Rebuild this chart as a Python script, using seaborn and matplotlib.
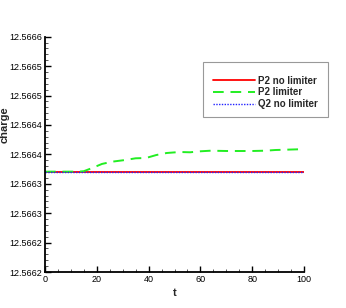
import numpy as np
import pandas as pd
import matplotlib
matplotlib.use("Agg")
import matplotlib.pyplot as plt
import matplotlib.ticker as mticker
from matplotlib.patches import Rectangle
import seaborn as sns

# ---- data ----
t_flat = [0, 100]
p2_nolim = [12.5663706, 12.5663706]
q2_nolim = [12.5663706, 12.5663706]
t_lim = [0, 13, 15, 18, 22, 26, 31, 35, 39, 43, 47, 52, 56, 60, 64, 70, 80, 85, 89, 93, 98, 100]
p2_lim = [12.5663706, 12.5663706, 12.5663714, 12.5663764, 12.5663837, 12.5663876,
          12.5663904, 12.5663933, 12.5663938, 12.5663989, 12.5664023, 12.5664040,
          12.5664035, 12.5664052, 12.5664062, 12.5664057, 12.5664057, 12.5664062,
          12.5664074, 12.5664079, 12.5664086, 12.5664086]
series_names = ["P2 no limiter", "P2 limiter", "Q2 no limiter"]
x_ticks = [0, 20, 40, 60, 80, 100]
y_ticks = [12.5662, 12.56625, 12.5663, 12.56635, 12.5664, 12.56645, 12.5665, 12.56655, 12.5666]
y_tick_labels = ["12.5662", "12.5662", "12.5663", "12.5663", "12.5664",
                 "12.5664", "12.5665", "12.5665", "12.5666"]

sns.set_style("ticks")
plt.rcParams['font.family'] = ['Liberation Sans', 'DejaVu Sans']

W, H = 346, 308
fig = plt.figure(figsize=(W / 100, H / 100), dpi=100)
ax = fig.add_axes([45 / W, (H - 272) / H, (304 - 45) / W, (272 - 36.7) / H])

sns.lineplot(x=t_flat, y=p2_nolim, ax=ax, color="#ff0000", lw=1.3, label=series_names[0])
sns.lineplot(x=t_lim, y=p2_lim, ax=ax, color="#22ee22", lw=1.4, label=series_names[1],
             dashes=False, linestyle=(0, (5.5, 3.5)))
sns.lineplot(x=t_flat, y=q2_nolim, ax=ax, color="#2222ff", lw=1.0, label=series_names[2],
             linestyle=(0, (1, 1)))

ax.set_xlim(0, 100)
ax.set_ylim(12.5662, 12.5666)
ax.set_xticks(x_ticks)
ax.set_yticks(y_ticks)
ax.set_yticklabels(y_tick_labels)
ax.xaxis.set_minor_locator(mticker.MultipleLocator(5))
ax.yaxis.set_minor_locator(mticker.MultipleLocator(0.00001))
ax.tick_params(axis="both", which="major", direction="in", length=4.5, width=1.0,
               labelsize=6.5, pad=2, colors="black")
ax.tick_params(axis="both", which="minor", direction="in", length=2.3, width=0.7, colors="#555555")
for s in ["top", "right"]:
    ax.spines[s].set_visible(False)
for s in ["left", "bottom"]:
    ax.spines[s].set_linewidth(1.3)
    ax.spines[s].set_color("black")

ax.set_xlabel("t", fontsize=8, fontweight="bold", labelpad=3)
ax.set_ylabel("charge", fontsize=8, fontweight="bold")
ax.yaxis.set_label_coords(-35 / (304 - 45), (272 - 125) / (272 - 36.7))

leg = ax.legend(loc="upper left", bbox_to_anchor=((213 - 45) / (304 - 45), (272 - 75.5) / (272 - 36.7)),
                frameon=False, fontsize=7, handlelength=4.3, handletextpad=0.3,
                labelspacing=0.2, borderpad=0, borderaxespad=0)
for txt in leg.get_texts():
    txt.set_fontweight("bold")

fig.patches.append(Rectangle((203 / W, (H - 117) / H), 125 / W, 55 / H,
                             transform=fig.transFigure, fill=False,
                             edgecolor="#999999", lw=0.8))

fig.savefig("out.png", dpi=100)
